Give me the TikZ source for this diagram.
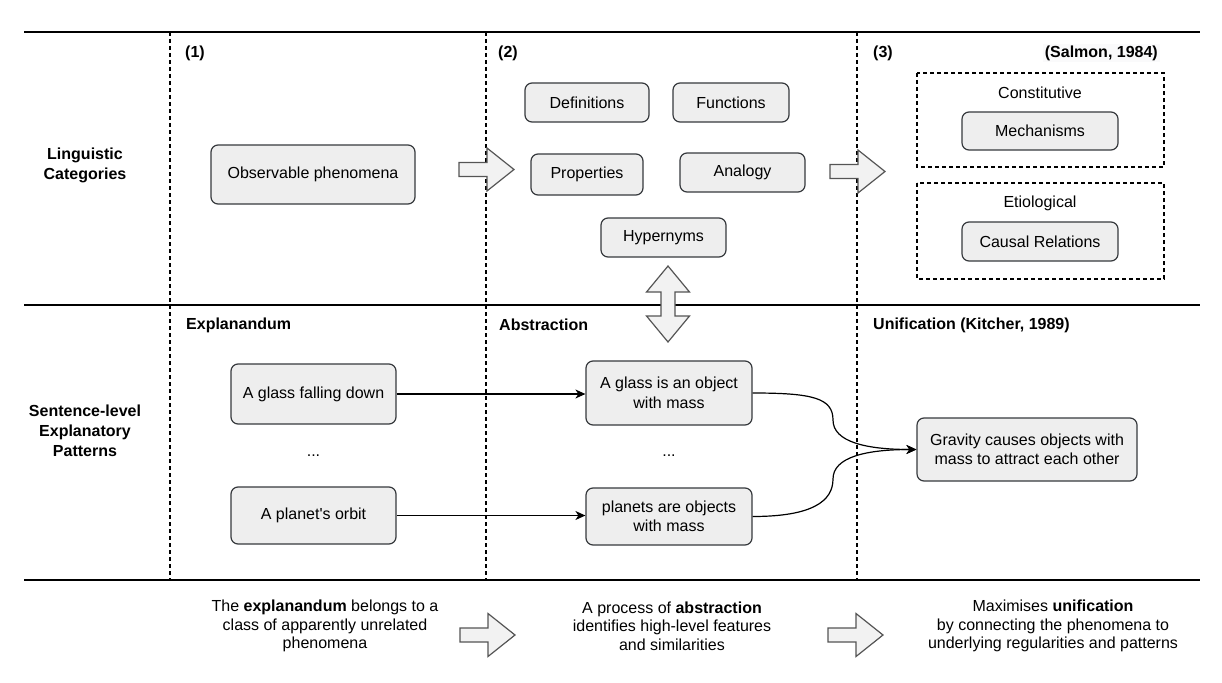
\documentclass[tikz,border=0pt]{standalone}
\usepackage{fontspec}
\setmainfont{Liberation Sans}
\usetikzlibrary{arrows.meta}
\definecolor{boxfill}{HTML}{EEEEEE}
\definecolor{boxline}{HTML}{36393D}
\definecolor{arrfill}{HTML}{F2F2F2}
\definecolor{arrline}{HTML}{555555}
\definecolor{salbg}{HTML}{FAFAFB}
\begin{document}
\begin{tikzpicture}[x=1pt,y=-1pt,
  every node/.style={font=\fontsize{16}{19.5}\selectfont, inner sep=0pt},
  box/.style={draw=boxline, fill=boxfill, rounded corners=7pt, line width=1.2pt, align=center},
  lbl/.style={font=\fontsize{16}{20}\selectfont\bfseries, align=center},
  foot/.style={font=\fontsize{16}{18.5}\selectfont, align=center},
  hline/.style={line width=2pt},
  vdash/.style={line width=1.3pt, dash pattern=on 4pt off 3pt},
  dbox/.style={line width=1.2pt, dash pattern=on 4pt off 3pt},
  fat/.style={draw=arrline, fill=arrfill, line width=1.2pt, line join=miter},
  conn/.style={line width=1.2pt, -{Stealth[length=10pt,width=9pt,inset=3pt]}},
  fatarrow/.pic={\path[fat] (0,-7) -- (28,-7) -- (28,-21.5) -- (55,0) -- (28,21.5) -- (28,7) -- (0,7) -- cycle;}
]
\useasboundingbox (0,0) rectangle (1222,682);

% frame lines
\draw[hline] (24,32) -- (1200,32);
\draw[hline] (24,305) -- (1200,305);
\draw[hline] (24,580) -- (1200,580);
\draw[vdash] (170,32) -- (170,580);
\draw[vdash] (486,32) -- (486,580);
\draw[vdash] (857,32) -- (857,580);

% row labels
\node[lbl] (lc) at (85,165) {Linguistic\\Categories};
\node[lbl] (sl) at (85,431) {Sentence-level\\Explanatory\\Patterns};

% column headers
\node[lbl, anchor=west] (h1) at (185,53) {(1)};
\node[lbl, anchor=west] (h2) at (498,53) {(2)};
\node[lbl, anchor=west] (h3) at (873,53) {(3)};
\node[lbl, anchor=east, fill=salbg, inner sep=2pt] (sal) at (1160,53) {(Salmon, 1984)};
\node[lbl, anchor=west] (e1) at (186,325) {Explanandum};
\node[lbl, anchor=west] (e2) at (499,325) {Abstraction};
\node[lbl, anchor=west] (e3) at (873,325) {Unification (Kitcher, 1989)};

% top row
\node[box, minimum width=204pt, minimum height=59pt] (obs) at (313,174.5) {Observable phenomena};
\node[box, minimum width=124pt, minimum height=39pt] (def) at (587,102.5) {Definitions};
\node[box, minimum width=116pt, minimum height=39pt] (fun) at (731,102.5) {Functions};
\node[box, minimum width=112pt, minimum height=41pt] (prop) at (587,174.5) {Properties};
\node[box, minimum width=125pt, minimum height=39pt] (ana) at (742.5,172.5) {Analogy};
\node[box, minimum width=125pt, minimum height=39pt] (hyp) at (663.5,237.5) {Hypernyms};

\draw[dbox] (917,73) rectangle (1164,167);
\draw[dbox] (917,183) rectangle (1164,279);
\node (con) at (1040,93) {Constitutive};
\node (eti) at (1040,203) {Etiological};
\node[box, minimum width=156pt, minimum height=38pt] (mech) at (1040,131) {Mechanisms};
\node[box, minimum width=156pt, minimum height=39pt] (caus) at (1040,241.5) {Causal Relations};

% middle row
\node[box, minimum width=165pt, minimum height=60pt] (glass) at (313.5,394) {A glass falling down};
\node[box, minimum width=165pt, minimum height=57pt] (planet) at (313.5,515.5) {A planet\textquotesingle s orbit};
\node (d1) at (313.5,456) {...};
\node[box, minimum width=166pt, minimum height=64pt] (gobj) at (669,393) {A glass is an object\\with mass};
\node[box, minimum width=166pt, minimum height=57pt] (pobj) at (669,516.5) {planets are objects\\with mass};
\node (d2) at (669,456) {...};
\node[box, minimum width=220pt, minimum height=63pt] (grav) at (1027,449.5) {Gravity causes objects with\\mass to attract each other};

\draw[conn] (glass.east) -- (glass.east -| gobj.west);
\draw[conn] (planet.east) -- (planet.east -| pobj.west);
\coordinate (m1) at (833,420);
\coordinate (m2) at (833,479);
\draw[conn] (gobj.east) .. controls +(60,0) and +(0,-22) .. (m1) .. controls +(0,22) and +(-50,0) .. (grav.west);
\draw[conn] (pobj.east) .. controls +(60,0) and +(0,22) .. (m2) .. controls +(0,-22) and +(-50,0) .. (grav.west);

% fat arrows
\pic at (459,169.5) {fatarrow};
\pic at (830,171.5) {fatarrow};
\pic at (460,635) {fatarrow};
\pic at (828,635) {fatarrow};
\path[fat] (668,266) -- (689.5,292) -- (675,292) -- (675,316) -- (689.5,316) -- (668,342)
  -- (646.5,316) -- (661,316) -- (661,292) -- (646.5,292) -- cycle;

% footer
\node[foot] (t1) at (325,626) {The \textbf{explanandum} belongs to a\\class of apparently unrelated\\phenomena};
\node[foot] (t2) at (672,626) {A process of \textbf{abstraction}\\identifies high-level features\\and similarities};
\node[foot] (t3) at (1053,626) {Maximises \textbf{unification}\\by connecting the phenomena to\\underlying regularities and patterns};
\end{tikzpicture}
\end{document}
